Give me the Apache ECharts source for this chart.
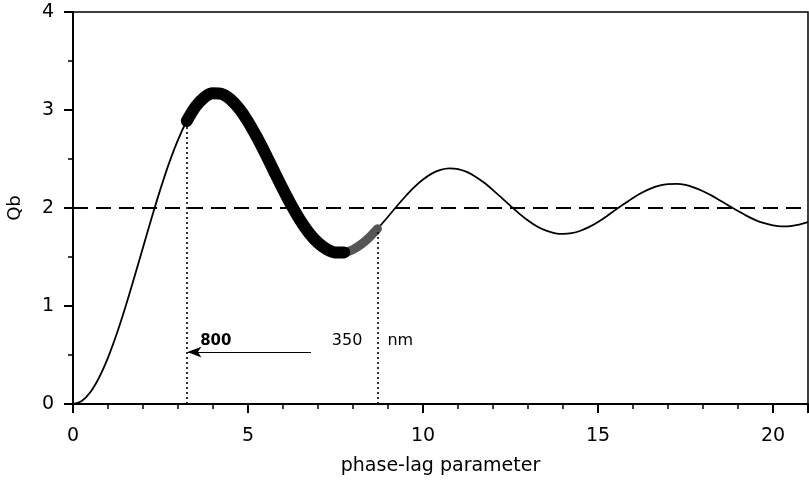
<!DOCTYPE html>
<html>
<head>
<meta charset="utf-8">
<script src="https://cdn.jsdelivr.net/npm/echarts@6/dist/echarts.min.js"></script>
<style>
  html, body { margin: 0; padding: 0; background: #fff; }
  #chart { width: 809px; height: 486px; }
</style>
</head>
<body>
<div id="chart"></div>
<script>
// phase-lag parameter (x) and extinction efficiency Qb (y)
var phaseLag = [0, 0.25, 0.5, 0.75, 1, 1.25, 1.5, 1.75, 2, 2.25, 2.5, 2.75, 3, 3.25, 3.5, 3.75, 4, 4.25, 4.5, 4.75,
  5, 5.25, 5.5, 5.75, 6, 6.25, 6.5, 6.75, 7, 7.25, 7.5, 7.75, 8, 8.25, 8.5, 8.7, 9, 9.25, 9.5, 9.75,
  10, 10.25, 10.5, 10.75, 11, 11.25, 11.5, 11.75, 12, 12.25, 12.5, 12.75, 13, 13.25, 13.5, 13.75, 14, 14.25, 14.5, 14.75,
  15, 15.25, 15.5, 15.75, 16, 16.25, 16.5, 16.75, 17, 17.25, 17.5, 17.75, 18, 18.25, 18.5, 18.75, 19, 19.25, 19.5, 19.75,
  20, 20.25, 20.5, 20.75, 21];
var qb = [0, 0.031, 0.123, 0.273, 0.473, 0.716, 0.992, 1.290, 1.598, 1.903, 2.195, 2.463, 2.696, 2.888, 3.033, 3.128, 3.170, 3.163, 3.108, 3.012,
  2.882, 2.725, 2.552, 2.370, 2.191, 2.021, 1.870, 1.743, 1.645, 1.579, 1.546, 1.547, 1.577, 1.634, 1.713, 1.788, 1.911, 2.018, 2.120, 2.213,
  2.291, 2.351, 2.389, 2.404, 2.397, 2.368, 2.320, 2.257, 2.183, 2.103, 2.021, 1.943, 1.873, 1.814, 1.771, 1.744, 1.735, 1.743, 1.768, 1.807,
  1.858, 1.917, 1.981, 2.043, 2.103, 2.155, 2.198, 2.228, 2.244, 2.246, 2.235, 2.208, 2.171, 2.126, 2.074, 2.021, 1.969, 1.920, 1.877, 1.845,
  1.823, 1.813, 1.816, 1.830, 1.855];

// wavelength range 800 nm .. 350 nm, expressed on the phase-lag axis
var rangeStart = 3.25;
var rangeEnd = 8.7;
var rangeLabels = ['800', '350', 'nm'];
var referenceLevel = 2;

var xTicks = { min: 0, max: 21, interval: 5 };
var yTicks = { min: 0, max: 4, interval: 1 };

function pairsBetween(a, b) {
  var out = [];
  for (var i = 0; i < phaseLag.length; i++) {
    if (phaseLag[i] >= a - 1e-9 && phaseLag[i] <= b + 1e-9) out.push([phaseLag[i], qb[i]]);
  }
  return out;
}
function qAt(x) {
  return qb[phaseLag.indexOf(x)];
}

var allPairs = pairsBetween(0, 21);
var bandDark = pairsBetween(rangeStart, 7.75);
var bandGrey = pairsBetween(7.25, rangeEnd);

var FONT = '"DejaVu Sans", "Liberation Sans", Arial, sans-serif';
var SMOOTH = 0.3;

var chart = echarts.init(document.getElementById('chart'), null, { renderer: 'canvas' });
chart.setOption({
  animation: false,
  backgroundColor: '#ffffff',
  grid: {
    left: 73, right: 1, top: 12, bottom: 82,
    outerBoundsMode: 'none',
    containLabel: false,
    show: true, borderColor: '#000', borderWidth: 1.5, backgroundColor: 'transparent'
  },
  xAxis: {
    type: 'value',
    min: xTicks.min, max: xTicks.max, interval: xTicks.interval,
    name: 'phase-lag parameter',
    nameLocation: 'middle',
    nameGap: 53,
    nameTextStyle: { fontFamily: FONT, fontSize: 19, color: '#000' },
    axisLine: { show: true, onZero: false, lineStyle: { color: '#000', width: 2 } },
    axisTick: { show: true, length: 9, lineStyle: { color: '#000', width: 2 } },
    minorTick: { show: true, splitNumber: 5, length: 5, lineStyle: { color: '#000', width: 1.5 } },
    axisLabel: { fontFamily: FONT, fontSize: 19, color: '#000', margin: 23, showMaxLabel: false },
    splitLine: { show: false }
  },
  yAxis: {
    type: 'value',
    min: yTicks.min, max: yTicks.max, interval: yTicks.interval,
    name: 'Qb',
    nameLocation: 'middle',
    nameGap: 49,
    nameRotate: 90,
    nameTextStyle: { fontFamily: FONT, fontSize: 18, color: '#000' },
    axisLine: { show: true, onZero: false, lineStyle: { color: '#000', width: 2 } },
    axisTick: { show: true, length: 9, lineStyle: { color: '#000', width: 2 } },
    minorTick: { show: true, splitNumber: 2, length: 5, lineStyle: { color: '#000', width: 1.5 } },
    axisLabel: { fontFamily: FONT, fontSize: 19, color: '#000', margin: 19 },
    splitLine: { show: false }
  },
  series: [
    {
      // full Qb curve with the reference level at Qb = 2
      type: 'line',
      data: allPairs,
      smooth: SMOOTH,
      showSymbol: false,
      lineStyle: { color: '#000', width: 1.8 },
      z: 3,
      markLine: {
        silent: true,
        symbol: 'none',
        label: { show: false },
        lineStyle: { color: '#000', width: 2, type: [15, 8] },
        data: [{ yAxis: referenceLevel }]
      }
    },
    {
      // tail of the highlighted wavelength range, shaded
      type: 'line',
      data: bandGrey,
      smooth: SMOOTH,
      showSymbol: false,
      lineStyle: { color: '#555', width: 9, cap: 'round' },
      z: 4
    },
    {
      // highlighted wavelength range
      type: 'line',
      data: bandDark,
      smooth: SMOOTH,
      showSymbol: false,
      lineStyle: { color: '#000', width: 12, cap: 'round' },
      z: 5
    },
    {
      // range markers, arrow and labels
      type: 'scatter',
      data: [],
      z: 6,
      markLine: {
        silent: true,
        symbol: 'none',
        label: { show: false },
        lineStyle: { color: '#000', width: 1.6, type: [2, 3] },
        data: [
          [{ coord: [rangeStart, 0] }, { coord: [rangeStart, qAt(rangeStart)] }],
          [{ coord: [rangeEnd, 0] }, { coord: [rangeEnd, qAt(rangeEnd)] }],
          [
            { coord: [6.8, 0.53], symbol: 'none', lineStyle: { type: 'solid', width: 1.2 } },
            { coord: [rangeStart + 0.02, 0.53], symbol: 'arrow', symbolSize: [8, 14], lineStyle: { type: 'solid', width: 1.2 } }
          ]
        ]
      },
      markPoint: {
        silent: true,
        symbol: 'circle',
        symbolSize: 0,
        label: {
          show: true,
          fontFamily: FONT,
          fontSize: 16,
          color: '#000',
          position: 'inside'
        },
        data: [
          { coord: [4.08, 0.64], value: rangeLabels[0], label: { formatter: rangeLabels[0], fontWeight: 'bold', fontSize: 15 } },
          { coord: [7.83, 0.64], value: rangeLabels[1], label: { formatter: rangeLabels[1] } },
          { coord: [9.35, 0.64], value: rangeLabels[2], label: { formatter: rangeLabels[2] } }
        ]
      }
    }
  ]
});
</script>
</body>
</html>
